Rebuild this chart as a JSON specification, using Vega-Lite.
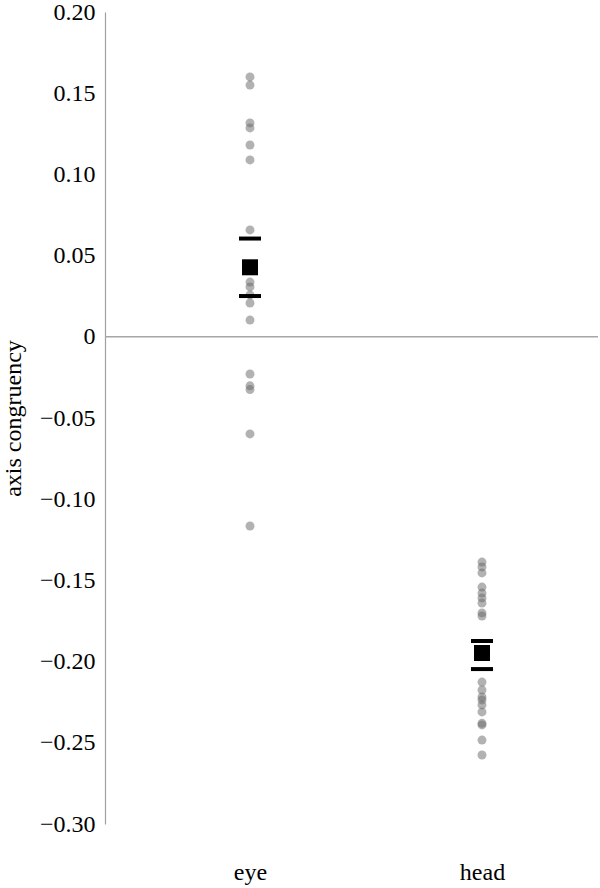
{
  "$schema": "https://vega.github.io/schema/vega-lite/v6.json",
  "autosize": "none",
  "width": 493,
  "height": 812,
  "padding": {"left": 105, "top": 12, "right": 2, "bottom": 64},
  "background": "white",
  "config": {"view": {"stroke": null}, "font": "Liberation Serif"},
  "datasets": {
    "points": [
      {"group": "eye", "value": 0.160},
      {"group": "eye", "value": 0.155},
      {"group": "eye", "value": 0.1317},
      {"group": "eye", "value": 0.1286},
      {"group": "eye", "value": 0.1181},
      {"group": "eye", "value": 0.1089},
      {"group": "eye", "value": 0.0658},
      {"group": "eye", "value": 0.0337},
      {"group": "eye", "value": 0.0307},
      {"group": "eye", "value": 0.0258},
      {"group": "eye", "value": 0.0208},
      {"group": "eye", "value": 0.0103},
      {"group": "eye", "value": -0.0229},
      {"group": "eye", "value": -0.0302},
      {"group": "eye", "value": -0.0325},
      {"group": "eye", "value": -0.0598},
      {"group": "eye", "value": -0.1165},
      {"group": "head", "value": -0.1387},
      {"group": "head", "value": -0.1417},
      {"group": "head", "value": -0.1454},
      {"group": "head", "value": -0.1541},
      {"group": "head", "value": -0.1578},
      {"group": "head", "value": -0.1608},
      {"group": "head", "value": -0.1639},
      {"group": "head", "value": -0.1700},
      {"group": "head", "value": -0.1719},
      {"group": "head", "value": -0.2126},
      {"group": "head", "value": -0.2175},
      {"group": "head", "value": -0.2218},
      {"group": "head", "value": -0.2236},
      {"group": "head", "value": -0.2267},
      {"group": "head", "value": -0.2310},
      {"group": "head", "value": -0.2380},
      {"group": "head", "value": -0.2390},
      {"group": "head", "value": -0.2483},
      {"group": "head", "value": -0.2575}
    ],
    "summary": [
      {"group": "eye", "stat": "mean", "value": 0.0428},
      {"group": "eye", "stat": "lo", "value": 0.0251},
      {"group": "eye", "stat": "hi", "value": 0.0605},
      {"group": "head", "stat": "mean", "value": -0.1947},
      {"group": "head", "stat": "lo", "value": -0.2046},
      {"group": "head", "stat": "hi", "value": -0.1873}
    ],
    "zero": [{"value": 0}]
  },
  "layer": [
    {
      "data": {"name": "zero"},
      "mark": {"type": "rule", "color": "#a6a6a6", "strokeWidth": 1.5},
      "encoding": {
        "y": {
          "field": "value", "type": "quantitative",
          "scale": {"domain": [-0.3, 0.2], "nice": false, "zero": false},
          "axis": {
            "title": "axis congruency",
            "values": [0.2, 0.15, 0.1, 0.05, 0, -0.05, -0.1, -0.15, -0.2, -0.25, -0.3],
            "labelExpr": "datum.value == 0 ? '0' : replace(format(datum.value, '.2f'), '-', '–')",
            "ticks": false, "tickSize": 0, "grid": false,
            "domainColor": "#a0a0a0", "domainWidth": 1.2,
            "labelFont": "Liberation Serif", "labelFontSize": 24, "labelColor": "black", "labelPadding": 10,
            "titleFont": "Liberation Serif", "titleFontSize": 24, "titleFontWeight": "normal", "titleColor": "black", "titlePadding": 14
          }
        }
      }
    },
    {
      "data": {"name": "points"},
      "mark": {"type": "circle", "size": 80, "color": "#666666", "opacity": 0.5},
      "encoding": {
        "x": {
          "field": "group", "type": "nominal",
          "scale": {"type": "point", "domain": ["eye", "head"], "range": [145, 377], "padding": 0},
          "axis": {"title": null, "domain": false, "ticks": false, "labelAngle": 0, "labelFont": "Liberation Serif", "labelFontSize": 24, "labelColor": "black", "labelPadding": 36}
        },
        "y": {"field": "value", "type": "quantitative", "title": "axis congruency"}
      }
    },
    {
      "data": {"name": "summary"},
      "transform": [{"filter": "datum.stat == 'mean'"}],
      "mark": {"type": "square", "size": 256, "color": "black", "opacity": 1},
      "encoding": {
        "x": {"field": "group", "type": "nominal"},
        "y": {"field": "value", "type": "quantitative", "title": "axis congruency"}
      }
    },
    {
      "data": {"name": "summary"},
      "transform": [{"filter": "datum.stat != 'mean'"}],
      "mark": {"type": "tick", "size": 22, "thickness": 4, "color": "black", "opacity": 1},
      "encoding": {
        "x": {"field": "group", "type": "nominal"},
        "y": {"field": "value", "type": "quantitative", "title": "axis congruency"}
      }
    }
  ]
}
